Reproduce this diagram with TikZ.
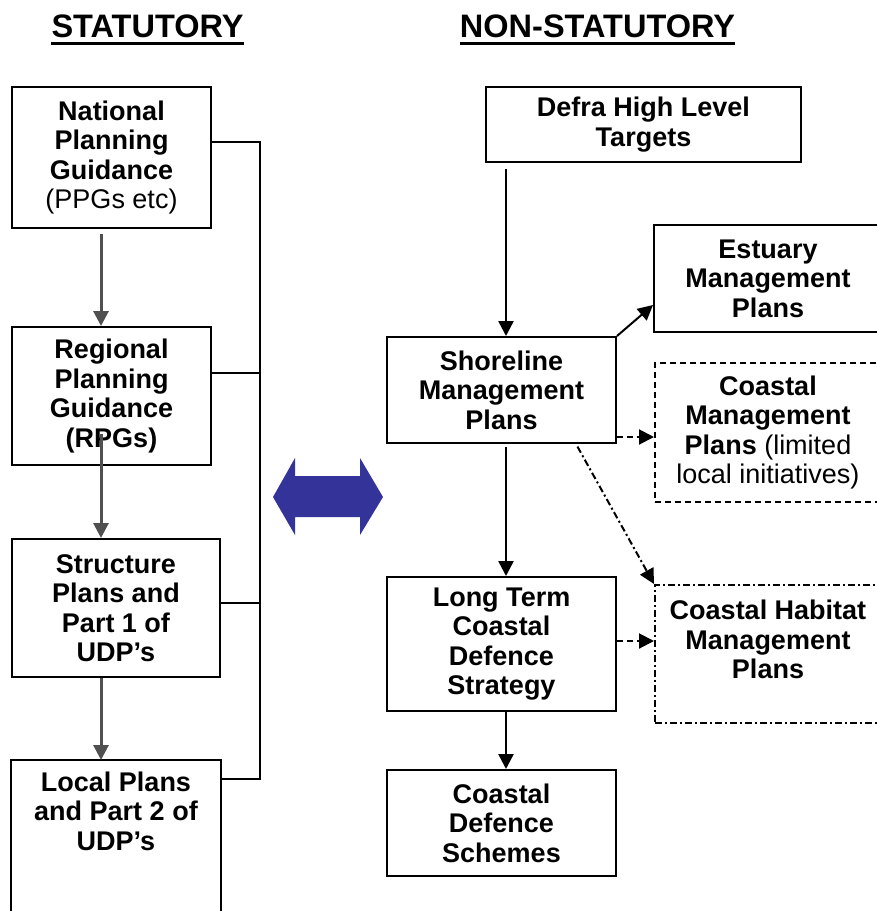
\documentclass[tikz,border=0pt]{standalone}
\usepackage{fontspec}
\setmainfont{Liberation Sans}
\usetikzlibrary{arrows.meta}

\definecolor{arrowblue}{RGB}{51,51,153}
\definecolor{linegray}{RGB}{80,80,80}

\tikzstyle{plan} = [draw, line width=2pt, align=center, inner sep=0pt, font=\bfseries\fontsize{27}{29.5}\selectfont]
\tikzstyle{head} = [inner sep=0pt, anchor=base, font=\bfseries\fontsize{32.5}{36}\selectfont]
\tikzstyle{flow} = [line width=2.5pt, -{Triangle[width=15pt,length=15pt]}]
\tikzstyle{link} = [line width=2pt]
\tikzstyle{maybe} = [dash pattern=on 6pt off 4pt]
\tikzstyle{dashdot} = [dash pattern=on 7pt off 3pt on 2pt off 3pt]

\begin{document}
\begin{tikzpicture}[x=1pt, y=-1pt]
\useasboundingbox (0,0) rectangle (877,911);

% headings
\node[head] (hstat) at (147.5,37) {STATUTORY};
\node[head] (hnon) at (597.5,37) {NON-STATUTORY};
\draw[line width=3pt] ([yshift=-6pt]hstat.base west) -- ([yshift=-6pt]hstat.base east);
\draw[line width=3pt] ([yshift=-6pt]hnon.base west) -- ([yshift=-6pt]hnon.base east);

% statutory side
\node[plan, minimum width=199pt, minimum height=141pt] (nat) at (111.5,157.5)
    {National\\Planning\\Guidance\\{\mdseries (PPGs etc)}};
\node[plan, minimum width=199pt, minimum height=138pt] (reg) at (111.5,396)
    {Regional\\Planning\\Guidance\\(RPGs)};
\node[plan, minimum width=208pt, minimum height=138pt] (str) at (116,608)
    {Structure\\Plans and\\Part 1 of\\UDP’s};
\node[plan, draw=none, minimum width=208pt, minimum height=100pt] (loc) at (116,811)
    {Local Plans\\and Part 2 of\\UDP’s};
\draw[line width=2pt] ([yshift=-120pt]loc.south west) |- (loc.north east) -- ([yshift=-120pt]loc.south east);

\coordinate (busbot) at (260,779);
\draw[link] ([yshift=15.5pt]nat.east) -| (busbot) -- ([yshift=32pt]loc.east);
\draw[link] ([yshift=23pt]reg.east) -- ([yshift=23pt]reg.east -| busbot);
\draw[link] ([yshift=5pt]str.east) -- ([yshift=5pt]str.east -| busbot);

\draw[flow, linegray, line width=3pt, shorten <=5pt] ([xshift=-10.5pt]nat.south) -- ([xshift=-10.5pt]reg.north);
\draw[flow, linegray, line width=3pt] ([xshift=-10.5pt, yshift=32pt]reg.south) -- ([xshift=-15pt]str.north);
\draw[flow, linegray, line width=3pt] ([xshift=-15pt]str.south) -- ([xshift=-15pt]loc.north);

% between the two sides
\fill[arrowblue] (273,497) -- (295,458) -- (295,476) -- (360,476) -- (360,458) -- (383,497)
    -- (360,535) -- (360,517) -- (295,517) -- (295,535) -- cycle;

% non-statutory side
\node[plan, minimum width=315pt, minimum height=75pt] (defra) at (643.5,124.5)
    {Defra High Level\\Targets};
\node[plan, minimum width=228pt, minimum height=107pt] (est) at (768,278.5)
    {Estuary\\Management\\Plans};
\node[plan, minimum width=229pt, minimum height=106pt] (shore) at (501.5,390)
    {Shoreline\\Management\\Plans};
\node[plan, maybe, minimum width=226pt, minimum height=139pt] (cmp) at (768,432.5)
    {Coastal\\Management\\Plans {\mdseries (limited}\\{\mdseries local initiatives)}};
\node[plan, minimum width=229pt, minimum height=134pt] (lt) at (501.5,644)
    {Long Term\\Coastal\\Defence\\Strategy};
\node[plan, dashdot, minimum width=226pt, minimum height=138pt] (hab) at (768,654)
    {Coastal Habitat\\Management\\Plans\\\mbox{}};
\node[plan, minimum width=229pt, minimum height=106pt] (cds) at (501.5,823)
    {Coastal\\Defence\\Schemes};

\draw[flow, shorten <=6pt] ([xshift=4.5pt]shore.north |- defra.south) -- ([xshift=4.5pt]shore.north);
\draw[flow, line width=2pt] (shore.north east) -- ([yshift=-26.5pt]est.west);
\draw[flow, maybe, line width=2pt] ([yshift=-47pt]shore.east) -- ([yshift=-47pt]shore.east -| cmp.west);
\draw[flow, dashdot, line width=2pt, shorten <=3pt] ([xshift=-41pt]shore.south east) -- (hab.north west);
\draw[flow, shorten <=3pt] ([xshift=4.5pt]shore.south) -- ([xshift=4.5pt]lt.north);
\draw[flow, maybe, line width=2pt] ([yshift=3pt]lt.east) -- ([yshift=3pt]lt.east -| hab.west);
\draw[flow] ([xshift=4.5pt]lt.south) -- ([xshift=4.5pt]cds.north);
\end{tikzpicture}
\end{document}
